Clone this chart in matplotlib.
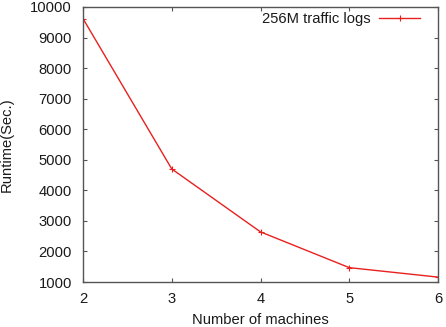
import matplotlib
matplotlib.use("Agg")
import matplotlib.pyplot as plt

machines = [2, 3, 4, 5, 6]
runtime = [9620, 4700, 2640, 1470, 1160]
series_label = "256M traffic logs"
x_ticks = [2, 3, 4, 5, 6]
y_ticks = [1000, 2000, 3000, 4000, 5000, 6000, 7000, 8000, 9000, 10000]

plt.rcParams['font.family'] = ['Liberation Sans', 'DejaVu Sans']
fs = 10.6
fig = plt.figure(figsize=(4.46, 3.27), dpi=100)
ax = fig.add_axes([83/446, 1-282/327, (438-83)/446, (282-7)/327])
ax.plot(machines, runtime, color='#e8211f', lw=1.0, marker='+', ms=4, mew=0.8, label=series_label)
ax.set_xlim(2, 6)
ax.set_ylim(1000, 10000)
ax.set_xticks(x_ticks)
ax.set_yticks(y_ticks)
ax.tick_params(direction='in', top=True, right=True, labelsize=fs, length=3, width=0.8,
               colors='#555555', labelcolor='#1a1a1a')
ax.tick_params(axis='y', pad=8)
ax.tick_params(axis='x', pad=7)
for s in ax.spines.values():
    s.set_color('#555555')
    s.set_linewidth(1.0)
ax.set_xlabel("Number of machines", fontsize=fs, labelpad=5, color='#1a1a1a')
ax.set_ylabel("Runtime(Sec.)", fontsize=fs, labelpad=12, color='#1a1a1a')
leg = ax.legend(loc='upper right', bbox_to_anchor=(0.9657, 1.004), frameon=False, fontsize=fs,
                markerfirst=False, handlelength=2.75, borderaxespad=0, handletextpad=0.6)
for t in leg.get_texts():
    t.set_color('#1a1a1a')
fig.savefig("out.png", dpi=100)
